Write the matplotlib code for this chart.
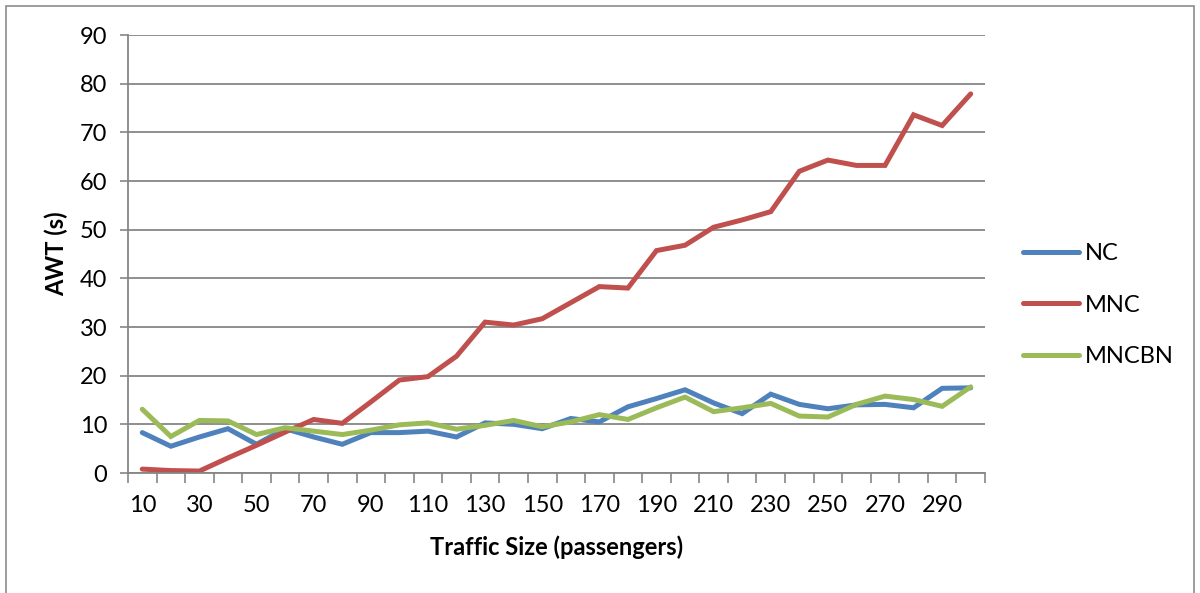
import matplotlib
matplotlib.use("Agg")
import matplotlib.pyplot as plt
from matplotlib.patches import Rectangle
import numpy as np

plt.rcParams['font.family'] = ['Lato', 'DejaVu Sans']

traffic = list(range(10, 301, 10))
nc = [8.3, 5.5, 7.4, 9.1, 5.9, 9.1, 7.4, 5.9, 8.3, 8.3,
      8.6, 7.4, 10.3, 10.0, 9.1, 11.2, 10.5, 13.6, 15.3, 17.1,
      14.4, 12.2, 16.2, 14.1, 13.2, 14.0, 14.1, 13.4, 17.4, 17.5]
mnc = [0.8, 0.5, 0.4, 3.1, 5.7, 8.4, 11.0, 10.2, 14.6, 19.1,
       19.8, 24.0, 31.0, 30.4, 31.7, 35.0, 38.3, 38.0, 45.7, 46.8,
       50.5, 52.0, 53.7, 62.0, 64.3, 63.2, 63.2, 73.6, 71.4, 77.9]
mncbn = [13.1, 7.5, 10.8, 10.7, 7.9, 9.3, 8.6, 7.9, 8.8, 9.9,
         10.3, 9.0, 9.8, 10.8, 9.5, 10.5, 12.0, 11.0, 13.4, 15.6,
         12.6, 13.4, 14.3, 11.7, 11.5, 14.1, 15.8, 15.1, 13.7, 17.7]
series_names = ['NC', 'MNC', 'MNCBN']
series_colors = ['#4F81BD', '#C0504D', '#9BBB59']
y_ticks = list(range(0, 91, 10))
x_tick_labels = list(range(10, 300, 20))

FS = 17

fig = plt.figure(figsize=(12, 5.93), dpi=100)
ax = fig.add_axes([128 / 1200, 1 - 473 / 593, (985 - 128) / 1200, (473 - 35) / 593])

for vals, name, col in zip([nc, mnc, mncbn], series_names, series_colors):
    ax.plot(traffic, vals, color=col, lw=3.6, label=name,
            solid_joinstyle='miter', solid_capstyle='round')

grid_col = '#868686'
ax.set_xlim(5, 305)
ax.set_ylim(0, 90)
ax.set_yticks(y_ticks)
ax.set_xticks(x_tick_labels)
ax.set_xticks(np.arange(5, 306, 10), minor=True)
ax.tick_params(axis='x', which='major', length=0, labelsize=FS, pad=16, colors='black')
ax.tick_params(axis='x', which='minor', length=7, width=1.2, color=grid_col, direction='out')
ax.tick_params(axis='y', which='major', length=6, width=1.2, color=grid_col,
               labelsize=FS, pad=9)
ax.yaxis.grid(True, color=grid_col, lw=1.3)
ax.set_axisbelow(True)
for s in ['top', 'right']:
    ax.spines[s].set_visible(False)
for s in ['left', 'bottom']:
    ax.spines[s].set_color(grid_col)
    ax.spines[s].set_linewidth(1.3)

ax.set_xlabel('Traffic Size (passengers)', fontsize=FS, fontweight='bold', labelpad=14)
ax.set_ylabel('AWT (s)', fontsize=FS, fontweight='bold', labelpad=8)

ax.legend(loc='center left', bbox_to_anchor=(1.044, 0.383), frameon=False,
          borderpad=0, borderaxespad=0,
          fontsize=FS, handlelength=2.4, labelspacing=1.3, handletextpad=0.25)

fig.patches.append(Rectangle((6 / 1200, -0.01), 1188 / 1200, 1 - 6 / 593 + 0.01,
                             transform=fig.transFigure, fill=False,
                             edgecolor='#8c8c8c', lw=1.2))

fig.savefig('out.png', dpi=100)
